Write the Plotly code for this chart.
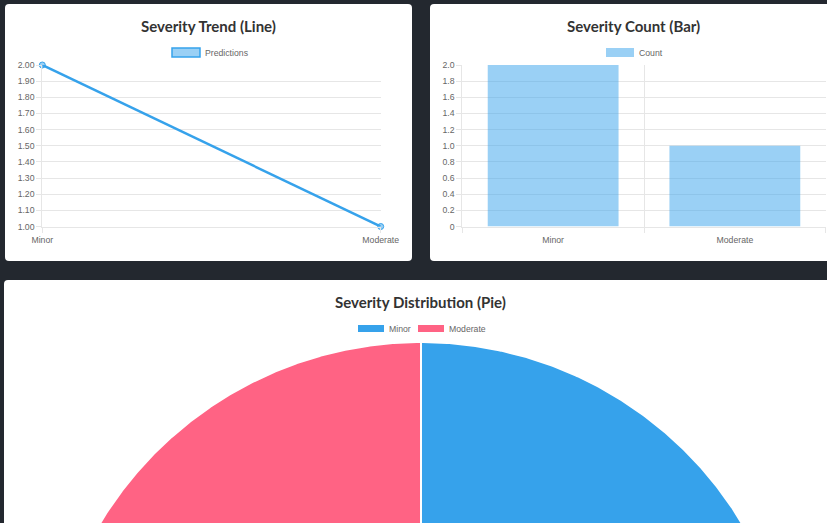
import numpy as np
import plotly.graph_objects as go

W, H = 827, 523

# ---- data ----
categories = ["Minor", "Moderate"]
predictions = [2, 1]
counts = [2, 1]
distribution = [2, 1]

line_tickvals = [1.0, 1.1, 1.2, 1.3, 1.4, 1.5, 1.6, 1.7, 1.8, 1.9, 2.0]
bar_tickvals = [0, 0.2, 0.4, 0.6, 0.8, 1.0, 1.2, 1.4, 1.6, 1.8, 2.0]
bar_ticktext = ["0", "0.2", "0.4", "0.6", "0.8", "1.0", "1.2", "1.4", "1.6", "1.8", "2.0"]

BLUE = "#36a2eb"
BLUE_SOFT = "rgba(54,162,235,0.5)"
PINK = "#ff6384"
PIE_COLORS = [BLUE, PINK]
GRID = "#e6e6e6"
TICK_FONT = dict(family="Liberation Sans, Arial, sans-serif", size=8.7, color="#666666")
TITLE_FONT = dict(family="Lato, Inter, sans-serif", size=15, color="#333333", weight=700)


def fx(px):
    return px / W


def fy(py):
    return 1 - py / H


def card_path(x0, y0, x1, y1, r=4, round_right=True, round_bottom=True):
    """SVG path (paper coords) for a white card given pixel corners."""
    rr = r if round_right else 0
    rb = r if round_bottom else 0
    rrb = r if (round_right and round_bottom) else 0
    return (
        f"M {fx(x0 + r)},{fy(y0)} L {fx(x1 - rr)},{fy(y0)} "
        f"Q {fx(x1)},{fy(y0)} {fx(x1)},{fy(y0 + rr)} "
        f"L {fx(x1)},{fy(y1 - rrb)} Q {fx(x1)},{fy(y1)} {fx(x1 - rrb)},{fy(y1)} "
        f"L {fx(x0 + rb)},{fy(y1)} Q {fx(x0)},{fy(y1)} {fx(x0)},{fy(y1 - rb)} "
        f"L {fx(x0)},{fy(y0 + r)} Q {fx(x0)},{fy(y0)} {fx(x0 + r)},{fy(y0)} Z"
    )


fig = go.Figure()

# Line chart: severity trend
fig.add_trace(go.Scatter(
    x=categories, y=predictions, mode="lines+markers",
    line=dict(color=BLUE, width=2.5),
    marker=dict(size=6, color=BLUE_SOFT, line=dict(color=BLUE, width=1)),
    cliponaxis=False, showlegend=False, xaxis="x", yaxis="y",
))

# Bar chart: severity count
fig.add_trace(go.Bar(
    x=categories, y=counts, width=0.72,
    marker=dict(color=BLUE_SOFT, line=dict(width=0)),
    showlegend=False, xaxis="x2", yaxis="y2",
))

# Pie chart: severity distribution. The pie is larger than the card's visible
# part, so slices are drawn as filled wedges on a unit-circle axis pair
# (centre at 0,0, radius 1) whose range only shows the upper cap.
pie_cx, pie_top, pie_r = 421, 342, 375          # pixel geometry of the pie
pie_cy = pie_top + pie_r
pie_area_top = 336                               # top of the pie's axis area (px)
total = float(sum(distribution))
start = 0.0
for label, value, color in zip(categories, distribution, PIE_COLORS):
    frac0, frac1 = start / total, (start + value) / total
    start += value
    # clockwise from 12 o'clock
    theta = np.pi / 2 - 2 * np.pi * np.linspace(frac0, frac1, 721)
    wx = np.concatenate([[0.0], np.cos(theta), [0.0]])
    wy = np.concatenate([[0.0], np.sin(theta), [0.0]])
    fig.add_trace(go.Scatter(
        x=wx, y=wy, mode="lines", fill="toself", fillcolor=color,
        line=dict(color="white", width=2), name=label,
        showlegend=False, xaxis="x3", yaxis="y3", hoverinfo="name",
    ))

axis_common = dict(
    showgrid=True, gridcolor=GRID, gridwidth=1,
    showline=True, linecolor=GRID, linewidth=1,
    ticks="outside", tickcolor=GRID, ticklen=5,
    tickfont=TICK_FONT, zeroline=False, fixedrange=True, automargin=False,
)
hidden_axis = dict(visible=False, showgrid=False, zeroline=False, fixedrange=True,
                   automargin=False)

fig.update_layout(
    width=W, height=H, autosize=False,
    margin=dict(l=0, r=0, t=0, b=0, pad=0, autoexpand=False),
    showlegend=False,
    paper_bgcolor="#23282f", plot_bgcolor="rgba(0,0,0,0)",
    xaxis=dict(axis_common, domain=[fx(42.3), fx(380.7)], anchor="y",
               type="category", range=[0, 1]),
    yaxis=dict(axis_common, domain=[fy(226.5), fy(65)], anchor="x",
               range=[1, 2], tickvals=line_tickvals, tickformat=".2f"),
    xaxis2=dict(axis_common, domain=[fx(462.3), fx(825.7)], anchor="y2",
                type="category", range=[-0.5, 1.5], tickson="boundaries",
                ticklabelstandoff=5),
    yaxis2=dict(axis_common, domain=[fy(226.5), fy(65)], anchor="x2",
                range=[0, 2], tickvals=bar_tickvals, ticktext=bar_ticktext),
    xaxis3=dict(hidden_axis, domain=[0, 1], anchor="y3",
                range=[(0 - pie_cx) / pie_r, (W - pie_cx) / pie_r]),
    yaxis3=dict(hidden_axis, domain=[0, fy(pie_area_top)], anchor="x3",
                range=[(pie_cy - H) / pie_r, (pie_cy - pie_area_top) / pie_r]),
)

# Cards (the right-hand and bottom cards continue past the window edge)
shapes = [
    dict(type="path", path=card_path(5, 4, 412, 261)),
    dict(type="path", path=card_path(430, 4, W, 261, round_right=False)),
    dict(type="path", path=card_path(4, 280, W, H, round_right=False, round_bottom=False)),
]
for s in shapes:
    s.update(xref="paper", yref="paper", fillcolor="white", line=dict(width=0), layer="below")

annotations = []


def title(text, cx, cy):
    annotations.append(dict(text=text, x=fx(cx), y=fy(cy), xref="paper", yref="paper",
                            showarrow=False, xanchor="center", yanchor="middle",
                            font=TITLE_FONT))


def legend_item(label, x0, y0, x1, y1, fill, border, tx):
    shapes.append(dict(type="rect", xref="paper", yref="paper",
                       x0=fx(x0), x1=fx(x1), y0=fy(y1), y1=fy(y0),
                       fillcolor=fill,
                       line=dict(color=border, width=1.5 if border else 0)))
    annotations.append(dict(text=label, x=fx(tx), y=fy((y0 + y1) / 2),
                            xref="paper", yref="paper", showarrow=False,
                            xanchor="left", yanchor="middle", font=TICK_FONT))


title("Severity Trend (Line)", 208, 26.5)
title("Severity Count (Bar)", 633, 26.5)
title("Severity Distribution (Pie)", 421, 302)

legend_item("Predictions", 172, 48, 200, 57, BLUE_SOFT, BLUE, 203)
legend_item("Count", 606, 48, 634, 57, BLUE_SOFT, None, 637)
legend_item(categories[0], 358, 325, 384, 332, PIE_COLORS[0], None, 387)
legend_item(categories[1], 418, 325, 444, 332, PIE_COLORS[1], None, 447)

fig.update_layout(shapes=shapes, annotations=annotations)

fig.write_html("out.html", config=dict(displayModeBar=False))
